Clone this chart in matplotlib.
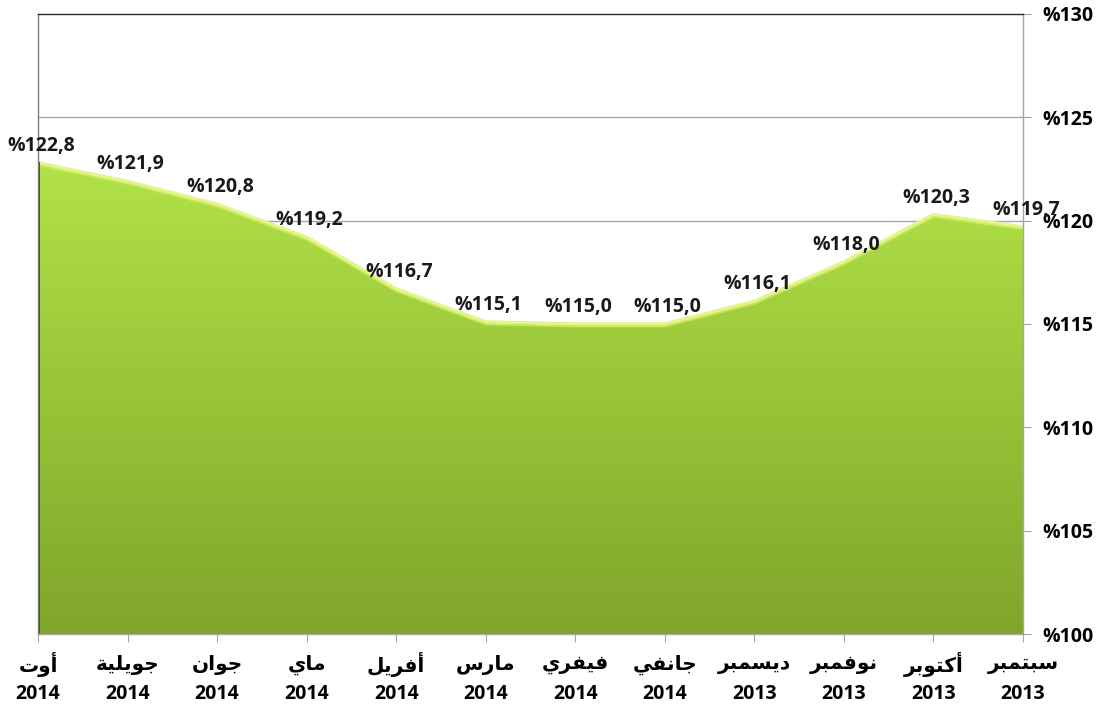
import numpy as np
import matplotlib
matplotlib.use("Agg")
import matplotlib.pyplot as plt
from matplotlib.colors import LinearSegmentedColormap
from matplotlib.patches import Polygon

# ============================================================
# DATA
# ============================================================

months = ["أوت", "جويلية", "جوان", "ماي", "أفريل", "مارس",
          "فيفري", "جانفي", "ديسمبر", "نوفمبر", "أكتوبر", "سبتمبر"]
years = ["2014", "2014", "2014", "2014", "2014", "2014",
         "2014", "2014", "2013", "2013", "2013", "2013"]
values = [122.8, 121.9, 120.8, 119.2, 116.7, 115.1,
          115.0, 115.0, 116.1, 118.0, 120.3, 119.7]
y_ticks = [100, 105, 110, 115, 120, 125, 130]

# ============================================================
# ARABIC SHAPING (no bidi library available)
# ============================================================

# iso, fin, ini, med
FORMS = {
    "\u0623": (0xFE83, 0xFE84, None, None),
    "\u0627": (0xFE8D, 0xFE8E, None, None),
    "\u0628": (0xFE8F, 0xFE90, 0xFE91, 0xFE92),
    "\u0629": (0xFE93, 0xFE94, None, None),
    "\u062A": (0xFE95, 0xFE96, 0xFE97, 0xFE98),
    "\u062C": (0xFE9D, 0xFE9E, 0xFE9F, 0xFEA0),
    "\u062F": (0xFEA9, 0xFEAA, None, None),
    "\u0631": (0xFEAD, 0xFEAE, None, None),
    "\u0633": (0xFEB1, 0xFEB2, 0xFEB3, 0xFEB4),
    "\u0641": (0xFED1, 0xFED2, 0xFED3, 0xFED4),
    "\u0643": (0xFED9, 0xFEDA, 0xFEDB, 0xFEDC),
    "\u0644": (0xFEDD, 0xFEDE, 0xFEDF, 0xFEE0),
    "\u0645": (0xFEE1, 0xFEE2, 0xFEE3, 0xFEE4),
    "\u0646": (0xFEE5, 0xFEE6, 0xFEE7, 0xFEE8),
    "\u0648": (0xFEED, 0xFEEE, None, None),
    "\u064A": (0xFEF1, 0xFEF2, 0xFEF3, 0xFEF4),
}


def shape(word):
    out = []
    n = len(word)
    for i, ch in enumerate(word):
        f = FORMS[ch]
        prev_joins = i > 0 and FORMS[word[i - 1]][2] is not None
        next_joins = i < n - 1 and f[2] is not None
        if prev_joins and next_joins:
            code = f[3]
        elif prev_joins:
            code = f[1]
        elif next_joins:
            code = f[2]
        else:
            code = f[0]
        out.append(chr(code))
    return "".join(reversed(out))


NUM_FONT = ["Open Sans", "DejaVu Sans"]

# ============================================================
# FIGURE
# ============================================================

fig = plt.figure(figsize=(11.07, 7.11), dpi=100)
ax = fig.add_axes([38 / 1107, 1 - 634 / 711, (1023 - 38) / 1107, (634 - 14) / 711])

x = np.arange(len(values))
ax.set_xlim(0, len(values) - 1)
ax.set_ylim(100, 130)

# gridlines
for t in y_ticks[1:-1]:
    ax.axhline(t, color="#a6a6a6", lw=1.0, zorder=1)

# gradient fill of the area
cmap = LinearSegmentedColormap.from_list("grn", ["#80a52b", "#97c438", "#b2e249"])
grad = np.linspace(0, 1, 256).reshape(-1, 1)
verts = [(0, 100)] + list(zip(x, values)) + [(x[-1], 100)]
poly = Polygon(verts, closed=True, facecolor="none", edgecolor="none")
ax.add_patch(poly)
img = ax.imshow(grad, cmap=cmap, aspect="auto", origin="lower",
                extent=[0, len(values) - 1, 100, max(values)], zorder=2)
img.set_clip_path(poly)

# light edge along top of area, dark edge at left
ax.plot(x, values, color="#e6f58a", lw=2.5, zorder=3, solid_joinstyle="round")
ax.plot(x, np.array(values) - 0.12, color="#c6ec5e", lw=1.2, zorder=3)
ax.plot([0, 0], [100, values[0]], color="#2e3440", lw=2.0, zorder=4)

# data labels
for xi, v in zip(x, values):
    ax.annotate(f"%{v:.1f}".replace(".", ","), (xi, v), xytext=(2, 5),
                textcoords="offset points", ha="center", va="bottom",
                fontsize=14, fontweight="bold", family=NUM_FONT,
                color="#1a1a1a", zorder=5)

# axes styling
ax.yaxis.tick_right()
ax.set_yticks(y_ticks)
ax.set_yticklabels([f"%{t}" for t in y_ticks], fontsize=14, fontweight="bold",
                   family=NUM_FONT)
ax.set_xticks(x)
ax.set_xticklabels([])
ax.tick_params(axis="y", length=6, color="#a6a6a6", pad=8)
ax.tick_params(axis="x", length=6, color="#a6a6a6")

# category labels: month line and year line
xt = ax.get_xaxis_transform()
for xi, m, yr in zip(x, months, years):
    ax.annotate(shape(m), (xi, 0), xycoords=xt, xytext=(0, -22),
                textcoords="offset points", ha="center", va="center",
                fontsize=14.5, fontweight="bold", family=["DejaVu Sans"],
                annotation_clip=False)
    ax.annotate(yr, (xi, 0), xycoords=xt, xytext=(0, -43),
                textcoords="offset points", ha="center", va="center",
                fontsize=14, fontweight="bold", family=NUM_FONT,
                annotation_clip=False)

ax.spines["top"].set_color("#262626")
ax.spines["left"].set_color("#808080")
ax.spines["right"].set_color("#a6a6a6")
ax.spines["bottom"].set_color("#a6a6a6")
for s in ax.spines.values():
    s.set_linewidth(1.0)
    s.set_zorder(4)

fig.savefig("out.png", dpi=100)
